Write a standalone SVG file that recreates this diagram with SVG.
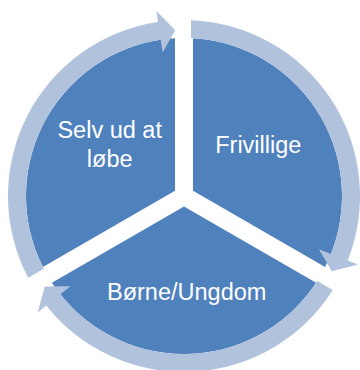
<svg xmlns="http://www.w3.org/2000/svg" width="360" height="370" viewBox="0 0 360 370">
<style>
.pie{fill:#4F81BD}
.ring{fill:#B1C2DD}
.lbl{font-family:"Liberation Sans",Arial,sans-serif;font-size:23.5px;fill:#FFFFFF;text-anchor:middle}
</style>
<rect width="360" height="370" fill="#FFFFFF"/>
<g id="node-frivillige">
<path class="pie" d="M193,190.8 L193,38.26 A158,158 0 0 1 325.11,267.08 Z"/>
<text class="lbl" x="258.3" y="153.3">Frivillige</text>
</g>
<g id="node-borne-ungdom">
<path class="pie" d="M184,206.39 L316.11,282.66 A158,158 0 0 1 51.89,282.66 Z"/>
<text class="lbl" x="186.7" y="300">Børne/Ungdom</text>
</g>
<g id="node-selv-ud-at-lobe">
<path class="pie" d="M175,190.8 L42.89,267.08 A158,158 0 0 1 175,38.26 Z"/>
<text class="lbl" x="109.7" y="138.3">Selv ud at</text>
<text class="lbl" x="109.7" y="166.7">løbe</text>
</g>
<g id="connectors">
<path class="ring" d="M191,20.14 A176,176 0 0 1 347.75,260.5 L357.99,264.54 L331.91,271.36 L318.91,249.14 L331.01,253.91 A158,158 0 0 0 191,38.16 Z"/>
<path class="ring" d="M332.8,289.99 A176,176 0 0 1 46.26,305.56 L37.65,312.41 L44.78,286.41 L70.52,286.26 L60.35,294.36 A158,158 0 0 0 317.2,280.98 Z"/>
<path class="ring" d="M28.2,277.87 A176,176 0 0 1 157.99,21.93 L156.36,11.05 L175.31,30.23 L162.57,52.59 L160.65,39.73 A158,158 0 0 0 43.8,268.86 Z"/>
</g>
</svg>
